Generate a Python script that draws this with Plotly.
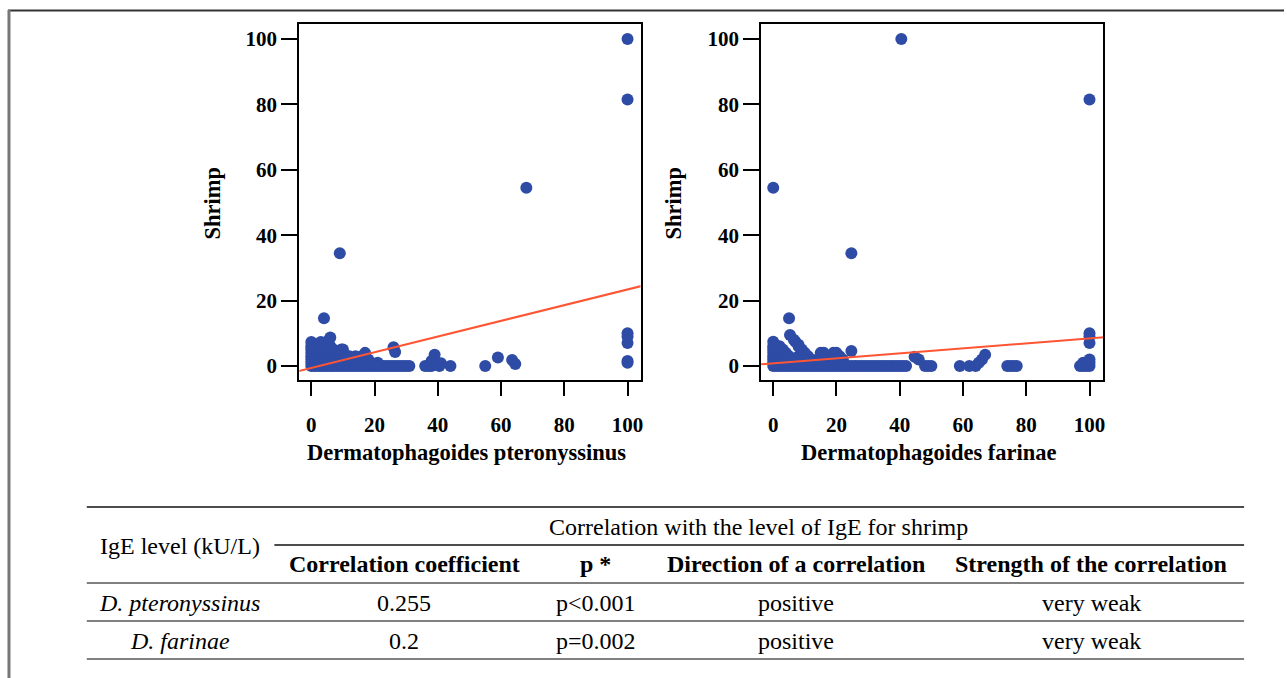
import plotly.graph_objects as go

W, H = 1287, 678

# ---------------- data ----------------
# D. pteronyssinus (x) vs shrimp (y)
dp_x = [0, 1, 2, 3, 4, 5, 6, 7, 8, 9, 10, 11, 12, 13, 14, 15, 16, 17, 18, 19, 20, 21, 22, 23, 24, 25, 26, 27, 28, 29, 30, 31, 36, 37, 38, 40.5, 44, 55,
        0, 1, 2, 3, 5, 7, 9, 11, 13, 15, 17, 19, 21,
        0, 1, 2, 3, 4, 5, 6, 7, 8, 9, 10, 11, 12, 13, 14, 15, 16, 17, 18,
        0, 1, 2, 3, 4, 5, 6, 7, 8, 9, 10, 12, 14, 16,
        0, 1, 2, 3, 4, 5, 6, 8, 10,
        0, 1, 2, 3, 5, 7, 9.5, 10,
        0, 1, 2, 6,
        0, 3,
        4, 5, 6, 9, 17, 26, 26.5, 39, 38, 41, 59, 63.5, 64.5, 68, 100, 100, 100, 100, 100, 100, 100]
dp_y = [0] * 38 + \
       [1] * 13 + \
       [2] * 19 + \
       [3] * 14 + \
       [4] * 9 + \
       [5] * 8 + \
       [6] * 4 + \
       [7.3] * 2 + \
       [14.6, 7.5, 8.7, 34.5, 4, 5.7, 4.3, 3.4, 1.5, 0.8, 2.6, 1.8, 0.6, 54.5, 100, 81.5, 10, 9, 7, 1.5, 1]

# D. farinae (x) vs shrimp (y)
df_x = list(range(0, 43)) + [48, 49, 50, 59, 62, 64, 74, 75, 76, 77, 97, 98, 99, 100] + \
       [0, 1, 2, 3, 4, 5, 6, 7, 8, 9, 10, 12, 14, 16, 18, 20, 65, 98, 100] + \
       [0, 1, 2, 3, 4, 5, 6, 7, 8, 9, 10, 11, 12, 14, 16, 18, 20, 22, 100] + \
       [0, 1, 2, 3, 4, 5, 8, 9, 10, 11, 15, 16, 17, 18, 19, 20, 21] + \
       [0, 1, 2, 3, 4, 10, 15, 16, 19, 20] + \
       [0, 1, 2, 3, 9] + \
       [0, 1, 2, 8] + \
       [0, 7] + \
       [0, 40.5, 100, 24.7, 5, 5.3, 6.5, 8, 24.7, 44.7, 46, 66, 67, 100, 100, 100]
df_y = [0] * 57 + [1] * 19 + [2] * 19 + [3] * 17 + [4] * 10 + [5] * 5 + [6] * 4 + [7.4] * 2 + \
       [54.5, 100, 81.5, 34.5, 14.6, 9.5, 8, 6.5, 4.6, 2.8, 2, 2, 3.4, 10, 9, 7]

# linear fits (intercept, slope)
fit_dp = (-0.6, 0.24)
fit_df = (0.8, 0.076)
fit_x = [-10, 110]

ticks = [0, 20, 40, 60, 80, 100]
x_titles = ["Dermatophagoides pteronyssinus", "Dermatophagoides farinae"]
y_title = "Shrimp"

# table
tbl_group = "Correlation with the level of IgE for shrimp"
tbl_first = "IgE level (kU/L)"
tbl_cols = ["Correlation coefficient", "p *", "Direction of a correlation", "Strength of the correlation"]
tbl_rows = ["D. pteronyssinus", "D. farinae"]
tbl_coef = ["0.255", "0.2"]
tbl_p = ["p<0.001", "p=0.002"]
tbl_dir = ["positive", "positive"]
tbl_str = ["very weak", "very weak"]

# ---------------- helpers ----------------
def px(x):
    return x / W

def py(y):
    return 1 - y / H

BLUE = "#2E4CA6"
RED = "#FF5533"
SERIF = "Liberation Serif"

fig = go.Figure()

fig.add_trace(go.Scatter(x=dp_x, y=dp_y, mode="markers", xaxis="x", yaxis="y",
                         marker=dict(size=12, color=BLUE), showlegend=False))
fig.add_trace(go.Scatter(x=fit_x, y=[fit_dp[0] + fit_dp[1] * v for v in fit_x], mode="lines",
                         xaxis="x", yaxis="y", line=dict(color=RED, width=2), showlegend=False))
fig.add_trace(go.Scatter(x=df_x, y=df_y, mode="markers", xaxis="x2", yaxis="y2",
                         marker=dict(size=12, color=BLUE), showlegend=False))
fig.add_trace(go.Scatter(x=fit_x, y=[fit_df[0] + fit_df[1] * v for v in fit_x], mode="lines",
                         xaxis="x2", yaxis="y2", line=dict(color=RED, width=2), showlegend=False))

tickfont = dict(family=SERIF, size=21, color="black", weight="bold")
common_x = dict(tickvals=ticks, ticks="outside", ticklen=14, tickwidth=2, tickcolor="black",
                showline=True, mirror=True, linewidth=2, linecolor="black",
                showgrid=False, zeroline=False, tickfont=tickfont, ticklabelstandoff=11)
common_y = dict(range=[-4.3, 104.6], tickvals=ticks, ticks="outside", ticklen=16, tickwidth=2,
                tickcolor="black", showline=True, mirror=True, linewidth=2, linecolor="black",
                showgrid=False, zeroline=False, tickfont=tickfont)

fig.update_layout(
    width=W, height=H,
    margin=dict(l=0, r=0, t=0, b=0),
    paper_bgcolor="white", plot_bgcolor="white",
    xaxis=dict(domain=[px(300), px(642)], range=[-3.8, 104.1], anchor="y", **common_x),
    yaxis=dict(domain=[py(380), py(24)], anchor="x", **common_y),
    xaxis2=dict(domain=[px(763), px(1106)], range=[-3.8, 104.4], anchor="y2", **common_x),
    yaxis2=dict(domain=[py(380), py(24)], anchor="x2", **common_y),
)

ann = []
title_font = dict(family=SERIF, size=22.5, color="black", weight="bold")
ann.append(dict(x=px(468), y=py(452), text=x_titles[0], font=title_font))
ann.append(dict(x=px(931), y=py(452), text=x_titles[1], font=title_font))
ann.append(dict(x=px(212), y=py(203), text=y_title, font=title_font, textangle=-90))
ann.append(dict(x=px(675), y=py(203), text=y_title, font=title_font, textangle=-90))

# table text
tf = dict(family=SERIF, size=24, color="black")
tfb = dict(family=SERIF, size=24, color="black", weight="bold")
tfi = dict(family=SERIF, size=24, color="black", style="italic")
col_x = [180, 405, 597, 798, 1094]
ann.append(dict(x=px(760), y=py(527), text=tbl_group, font=tf))
ann.append(dict(x=px(col_x[0]), y=py(546), text=tbl_first, font=tf))
for cx, t in zip(col_x[1:], tbl_cols):
    ann.append(dict(x=px(cx), y=py(564), text=t, font=tfb))
for ry, name, c, p, d, s in zip([603, 641], tbl_rows, tbl_coef, tbl_p, tbl_dir, tbl_str):
    ann.append(dict(x=px(col_x[0]), y=py(ry), text=name, font=tfi))
    for cx, t in zip(col_x[1:], [c, p, d, s]):
        ann.append(dict(x=px(cx), y=py(ry), text=t, font=tf))

for a in ann:
    a.update(xref="paper", yref="paper", showarrow=False, xanchor="center", yanchor="middle")
fig.update_layout(annotations=ann)

shapes = []
def hline(x0, x1, y, color, width):
    shapes.append(dict(type="line", xref="paper", yref="paper", x0=px(x0), x1=px(x1),
                       y0=py(y), y1=py(y), line=dict(color=color, width=width)))

# frame
hline(8, 1287, 10.5, "#333333", 2)
shapes.append(dict(type="line", xref="paper", yref="paper", x0=px(9), x1=px(9), y0=py(10), y1=py(678),
                   line=dict(color="#777777", width=3)))
# table rules
hline(87, 1247, 507, "#111111", 1.5)
hline(275, 1247, 545, "#111111", 1.5)
hline(87, 1247, 583, "#808080", 2)
hline(87, 1247, 621, "#808080", 2)
hline(87, 1247, 659, "#808080", 2)
fig.update_layout(shapes=shapes)

fig.write_html("out.html", config={"displayModeBar": False},
               post_script="document.body.style.margin='0px';document.body.style.overflow='hidden';")
